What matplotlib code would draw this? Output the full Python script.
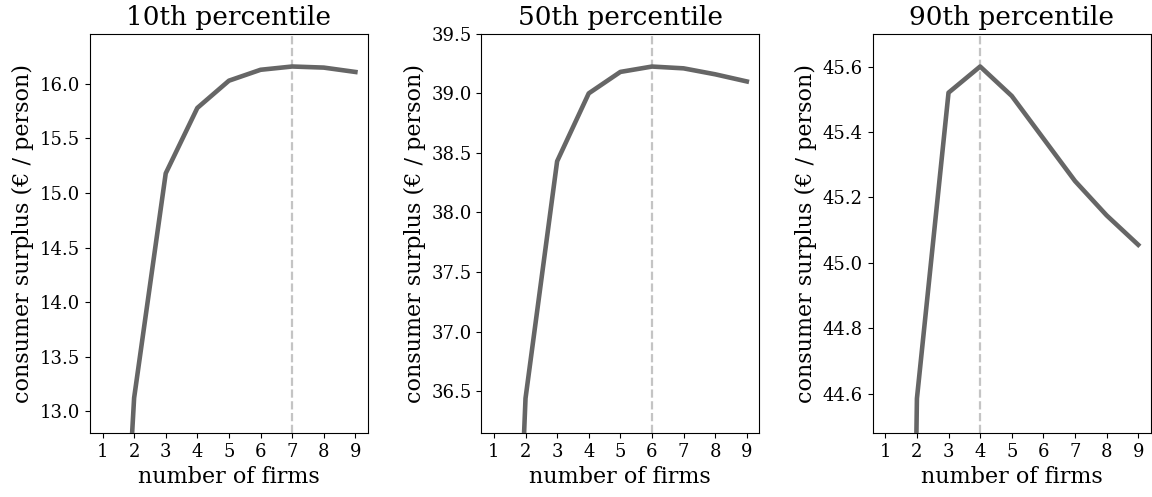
import matplotlib
matplotlib.use("Agg")
import matplotlib.pyplot as plt

plt.rcParams["font.family"] = "DejaVu Serif"

firms = [1, 2, 3, 4, 5, 6, 7, 8, 9]
titles = ["10th percentile", "50th percentile", "90th percentile"]

# x=1 lies far below the visible range in the reference (estimated)
cs_p10 = [8.0, 13.12, 15.18, 15.78, 16.03, 16.13, 16.16, 16.15, 16.11]
cs_p50 = [30.0, 36.44, 38.43, 39.0, 39.18, 39.225, 39.21, 39.16, 39.10]
cs_p90 = [38.0, 44.585, 45.52, 45.60, 45.51, 45.38, 45.25, 45.145, 45.055]

best = [7, 6, 4]
ylims = [(12.8, 16.46), (36.15, 39.5), (44.48, 45.70)]

fig, axes = plt.subplots(1, 3, figsize=(11.52, 4.97), dpi=100)
plt.subplots_adjust(left=0.078, right=0.999, bottom=0.129, top=0.932, wspace=0.407)

for ax, title, vals, b, yl in zip(axes, titles, [cs_p10, cs_p50, cs_p90], best, ylims):
    ax.plot(firms, vals, color="#666666", lw=3.3, zorder=3)
    ax.axvline(b, color="#c4c4c4", ls="--", lw=1.6, zorder=2)
    ax.set_ylim(*yl)
    ax.set_xticks(firms)
    ax.set_title(title, fontsize=19)
    ax.set_xlabel("number of firms", fontsize=16)
    ax.set_ylabel("consumer surplus (€ / person)", fontsize=16)
    ax.tick_params(labelsize=13)

plt.savefig("out.png", dpi=100)
